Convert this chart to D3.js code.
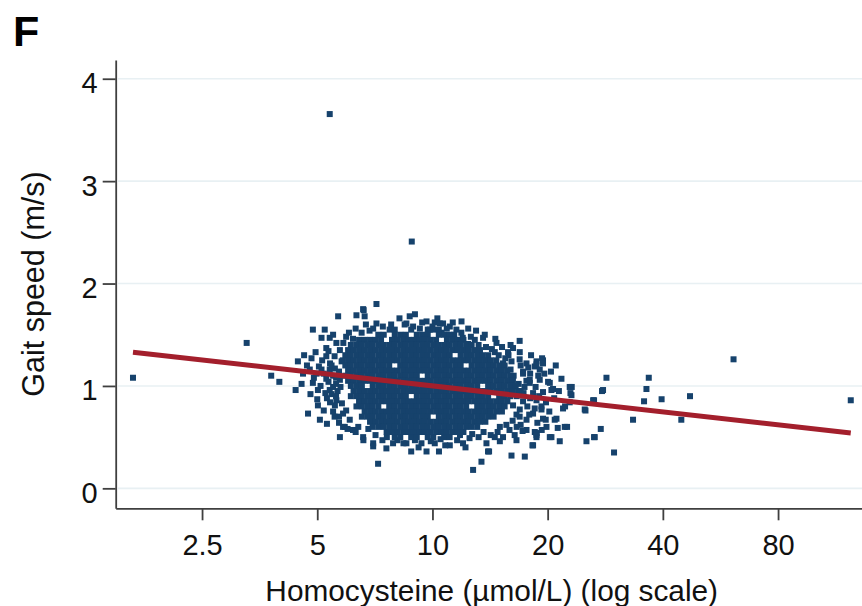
<!DOCTYPE html>
<html><head><meta charset="utf-8">
<script src="https://cdn.jsdelivr.net/npm/d3@7"></script>
<style>body{margin:0;background:#fff}svg{display:block}</style>
</head><body><svg id="c" width="862" height="606"></svg>
<script>
// ---------- labels / ticks ----------
const panelLabel = "F";
const xTitle = "Homocysteine (µmol/L) (log scale)";
const yTitle = "Gait speed (m/s)";
const xTicks = [2.5, 5, 10, 20, 40, 80];
const xTickLabels = ["2.5", "5", "10", "20", "40", "80"];
const yTicks = [0, 1, 2, 3, 4];

// ---------- scattered points (homocysteine, gait speed) ----------
const hcy = [1.65,3.27,5.39,8.83,123.9,61.2,39.7,47.1,44.7,
 4.45,4.59,4.83,4.78,4.98,5.28,5.39,5.39,5.61,4.73,5.08,5.02,5.73,5.90,7.00,7.00,7.21,3.79,3.98,4.39,4.87,5.23,5.39,5.13,5.67,6.33,6.65,7.14,6.59,5.61,5.73,5.28,5.79,5.13,5.56,4.87,5.28,5.73,5.02,5.50,5.56,5.84,6.08,6.20,5.84,6.59,7.89,7.58,8.55,9.36,9.65,10.14,11.10,12.02,13.84,14.55,15.29,16.58,13.97,13.43,12.77,16.09,17.43,18.32,14.06,
 6.61,8.72,8.55,9.65,10.14,10.66,11.91,11.55,10.56,12.39,13.56,14.70,14.55,15.76,16.24,16.91,15.29,16.09,17.61,18.70,19.45,18.51,17.25,19.07,17.96,20.05,21.73,20.46,22.84,23.08,26.29,25.00,21.94,19.27,18.32,19.45,20.87,22.17,19.86,18.51,17.61,20.46,21.51,25.26,26.55,18.70,8.46,7.14,7.73,8.90,10.45,11.10,9.27,9.84,7.42,6.53,6.85,
 28.49,36.75,36.24,35.72,33.43,29.82,27.74,26.44,25.11,27.53,26.44,23.12,22.94,22.21,22.48,20.26,19.34,18.70,19.45,18.25,18.70,21.09,19.77,19.27,20.26,20.66,19.07,19.45,17.96,17.25,16.58,17.25,18.70,18.32,17.61,16.91,16.24,27.91,22.84,21.25,18.72,
 16.3,16.8,17.0,16.6,17.4,16.2,17.0,15.6,15.9,15.0,14.8,16.0,15.5,14.9,14.3,13.8,13.2,12.9,12.0,11.4,15.8,
 5.4,5.5,5.6,5.45,5.65,5.5,5.7,5.3,7.4,8.1,9.0,10.5,11.6,12.5,13.2,
 4.62,4.95,5.15,5.35,5.55,4.70,5.05,5.45,5.70,4.90,5.20,5.60,4.55,5.10,5.35,5.75,4.80,5.25,5.60,5.00,5.40,5.80,5.20,5.55,5.95,5.30,5.70,6.0,6.3,6.4,5.85,5.95,6.20,6.05,6.30,5.50,
 16.9,17.8,18.1,17.0,18.0,18.9,17.6,18.6,19.6,17.3,18.0,19.0,17.7,18.5,19.8,16.9,17.9,18.8,16.6,17.2,16.4,19.3,20.2,20.8,21.4,20.4,21.0,16.0,16.9,15.2,14.6,13.7,13.0,12.4,11.9,12.6,
 7.8,8.2,9.4,10.0,10.9,11.3,7.0,6.7,9.0,10.3,
 7.1,7.6,8.4,9.2,9.9,10.8,11.8,12.7,13.6,14.2,15.0,12.2,10.4,8.8,6.8,6.6];
const speed = [1.08,1.42,3.655,2.41,0.86,1.26,0.87,0.90,0.67,
 1.24,1.12,1.27,1.16,1.12,1.29,1.16,0.96,0.86,0.73,0.67,0.81,0.50,0.60,0.44,0.41,0.24,1.10,1.04,0.96,1.55,1.55,1.47,1.47,1.68,1.69,1.68,1.80,1.75,1.42,1.35,1.37,1.24,1.16,1.17,1.03,1.07,1.06,0.96,0.99,0.81,0.73,0.67,0.57,0.60,0.50,0.44,0.39,0.44,0.44,0.36,0.44,0.42,0.44,0.44,0.50,0.50,0.47,0.36,0.26,0.18,0.32,0.31,0.42,0.36,
 1.74,1.68,1.61,1.63,1.62,1.61,1.63,1.55,1.52,1.41,1.47,1.42,1.33,1.33,1.37,1.33,1.22,1.24,1.22,1.24,1.25,1.19,1.14,1.16,1.06,1.04,1.07,0.96,0.99,0.91,0.86,0.77,0.78,0.80,0.73,0.68,0.67,0.60,0.60,0.55,0.57,0.50,0.46,0.46,0.50,0.50,1.60,1.61,1.55,1.58,1.61,1.58,1.56,1.55,1.58,1.52,1.54,
 1.08,1.08,0.97,0.85,0.67,0.35,0.95,0.86,0.76,0.58,0.50,0.99,0.93,0.80,0.60,0.50,1.27,1.21,1.22,0.42,0.52,0.68,0.67,0.77,1.03,0.97,1.06,0.94,1.03,1.12,0.72,0.85,0.86,0.93,0.67,0.77,0.81,0.96,0.84,0.59,0.54,
 1.10,1.02,0.95,0.90,0.99,0.66,0.62,0.62,0.57,0.60,0.55,1.16,1.27,1.30,1.36,1.38,1.40,1.45,1.47,1.50,1.30,
 1.22,1.10,1.02,0.92,0.95,0.75,0.70,0.88,0.47,0.47,0.47,0.48,0.47,0.49,0.50,
 1.30,1.33,1.25,1.34,1.29,1.20,1.19,1.20,1.14,1.08,1.12,1.08,1.02,1.00,1.04,0.99,0.92,0.93,0.90,0.87,0.84,0.83,0.76,0.70,0.76,0.63,0.64,0.58,0.55,0.60,1.42,1.48,1.46,1.52,1.56,1.50,
 1.26,1.18,1.30,1.20,1.12,1.10,1.05,0.99,1.12,0.93,0.88,0.90,0.80,0.78,0.84,0.70,0.72,0.64,0.60,0.56,0.52,0.57,0.75,0.88,0.95,1.14,1.20,1.40,1.44,1.38,1.46,1.50,1.54,1.56,1.52,1.48,
 1.60,1.66,1.62,1.58,1.56,1.62,1.56,1.60,1.70,1.66,
 0.52,0.50,0.44,0.40,0.46,0.42,0.52,0.53,0.55,0.52,0.46,0.40,0.36,0.36,0.58,0.47];

// ---------- dense core, read row by row (gait speed of row, homocysteine values) ----------
const coreSpeed = [1.55,1.50,1.45,1.40,1.35,1.30,1.25,1.20,1.15,1.10,1.05,1.00,0.95,0.90,0.85,0.80,0.75,0.70,0.65,0.60,0.55,0.50];
const coreHcy = [
 [7.97,8.80,9.72,10.05,10.39],
 [7.22,7.46,7.97,8.24,8.52,9.10,9.40,9.72,10.39,10.73,11.09],
 [6.43,6.65,6.87,7.10,7.34,7.84,8.10,8.38,8.66,8.95,9.25,9.56,9.88,10.22,10.91,11.28,11.66,12.05],
 [6.12,6.33,6.54,6.76,6.98,7.22,7.46,7.71,7.97,8.24,8.52,8.80,9.10,9.40,9.72,10.05,10.39,10.73,11.09,11.47,11.85,12.25,12.66],
 [6.02,6.22,6.43,6.65,6.87,7.10,7.34,7.59,7.84,8.10,8.38,8.66,8.95,9.25,9.56,9.88,10.22,10.56,10.91,11.28,11.66,12.05,12.45,12.87,13.31],
 [5.92,6.12,6.33,6.54,6.76,6.98,7.22,7.46,7.71,7.97,8.24,8.52,8.80,9.10,9.40,9.72,10.05,10.39,10.73,11.09,11.85,12.25,12.66,13.09,13.53,13.98],
 [5.83,6.02,6.22,6.43,6.65,6.87,7.10,7.34,7.59,7.84,8.10,8.38,8.66,8.95,9.25,9.56,9.88,10.22,10.56,10.91,11.28,11.66,12.05,12.45,12.87,13.31,13.75,14.21,14.69],
 [5.92,6.12,6.33,6.54,6.76,6.98,7.22,7.46,7.71,8.24,8.52,8.80,9.10,9.40,9.72,10.05,10.39,10.73,11.09,11.47,11.85,12.66,13.09,13.53,13.98,14.45,14.94,15.44],
 [6.02,6.22,6.43,6.65,6.87,7.10,7.34,7.59,7.84,8.10,8.38,8.66,8.95,9.25,9.56,9.88,10.22,10.56,10.91,11.28,11.66,12.05,12.45,12.87,13.31,13.75,14.21,14.69,15.19,15.70],
 [5.92,6.12,6.33,6.54,6.76,6.98,7.22,7.46,7.71,7.97,8.24,8.52,8.80,9.10,9.72,10.05,10.39,10.73,11.09,11.47,11.85,12.25,12.66,13.09,13.53,13.98,14.45,14.94,15.44,15.96],
 [6.02,6.22,6.43,6.65,6.87,7.10,7.34,7.59,7.84,8.10,8.38,8.66,8.95,9.25,9.56,9.88,10.22,10.56,10.91,11.28,11.66,12.05,12.45,12.87,13.31,13.75,14.21,14.69,15.19,15.70,16.23],
 [6.12,6.33,6.54,6.98,7.22,7.46,7.71,7.97,8.24,8.52,8.80,9.10,9.40,9.72,10.05,10.39,10.73,11.09,11.47,11.85,12.25,12.66,13.09,13.98,14.45,14.94,15.44,15.96,16.50],
 [6.22,6.43,6.65,6.87,7.10,7.34,7.59,7.84,8.10,8.38,8.66,8.95,9.25,9.56,9.88,10.22,10.56,10.91,11.28,11.66,12.05,12.45,12.87,13.31,13.75,14.21,14.69,15.19,15.70,16.23,16.78],
 [6.12,6.33,6.54,6.76,6.98,7.22,7.46,7.71,7.97,8.24,8.52,9.10,9.40,9.72,10.05,10.39,10.73,11.09,11.47,11.85,12.25,12.66,13.09,13.53,13.98,14.94,15.44,15.96],
 [6.43,6.65,6.87,7.10,7.34,7.59,7.84,8.10,8.38,8.66,8.95,9.25,9.56,9.88,10.22,10.56,10.91,11.28,11.66,12.05,12.45,12.87,13.31,13.75,14.21,14.69,15.19,15.70],
 [6.33,6.54,6.76,6.98,7.22,7.71,7.97,8.24,8.52,8.80,9.10,9.40,9.72,10.05,10.39,10.73,11.09,11.47,11.85,12.25,13.09,13.53,13.98,14.45,14.94,15.44],
 [6.65,6.87,7.10,7.34,7.59,7.84,8.10,8.38,8.66,8.95,9.25,9.56,9.88,10.22,10.56,10.91,11.28,11.66,12.05,12.45,12.87,13.31,13.75,14.21,14.69,15.19],
 [6.54,6.76,6.98,7.22,7.46,7.71,7.97,8.24,8.52,8.80,9.10,9.40,9.72,10.39,10.73,11.09,11.47,11.85,12.25,12.66,13.09,13.53,13.98,14.45],
 [6.87,7.10,7.34,7.59,7.84,8.10,8.38,8.66,8.95,9.25,9.56,9.88,10.22,10.56,10.91,11.28,11.66,12.05,12.45,12.87,13.31,13.75],
 [6.98,7.22,7.46,7.71,7.97,8.24,8.52,8.80,9.10,9.40,9.72,10.05,10.39,10.73,11.09,11.47,11.85,12.25,12.66,13.09],
 [7.59,7.84,8.10,8.38,8.66,8.95,9.25,9.56,9.88,10.22,10.56,10.91,11.28,11.66,12.05],
 [7.97,8.24,8.80,9.10,9.72,10.05,10.73,11.09]
];

// ---------- fitted line endpoints ----------
const fitHcy = [1.65, 123.9];
const fitSpeed = [1.33, 0.54];

// ---------- drawing ----------
const svg = d3.select("#c");
const font = "'Liberation Sans', Arial, Helvetica, sans-serif";
const navy = "#16426c", red = "#a31f2c", axisCol = "#3f3f3f";

const x = d3.scaleLog().domain([1.487, 143.7]).range([115.7, 875.4]);
const y = d3.scaleLinear().domain([-0.195, 4.183]).range([508.3, 60]);

// gridlines
svg.append("g").selectAll("line").data(yTicks).join("line")
  .attr("x1", 118).attr("x2", 862)
  .attr("y1", d => y(d)).attr("y2", d => y(d))
  .attr("stroke", "#e8f0f3").attr("stroke-width", 1.6);

// points
const pts = hcy.map((h, i) => [h, speed[i]]);
coreSpeed.forEach((s, r) => coreHcy[r].forEach(h => pts.push([h, s])));
const sz = 6;
svg.append("g").selectAll("rect").data(pts).join("rect")
  .attr("x", d => x(d[0]) - sz / 2).attr("y", d => y(d[1]) - sz / 2)
  .attr("width", sz).attr("height", sz).attr("fill", navy);

// fitted line
svg.append("path")
  .datum(fitHcy.map((h, i) => [h, fitSpeed[i]]))
  .attr("d", d3.line().x(d => x(d[0])).y(d => y(d[1])))
  .attr("stroke", red).attr("stroke-width", 5).attr("fill", "none");

// axes
const yAxis = svg.append("g").attr("transform", "translate(115.7,0)")
  .call(d3.axisLeft(y).tickValues(yTicks).tickFormat(d3.format("d")).tickSize(13).tickPadding(5).tickSizeOuter(0));
const xAxis = svg.append("g").attr("transform", "translate(0,508.3)")
  .call(d3.axisBottom(x).tickValues(xTicks).tickFormat((d, i) => xTickLabels[i]).tickSize(12).tickPadding(14).tickSizeOuter(0));
[yAxis, xAxis].forEach(g => {
  g.selectAll("path.domain").attr("stroke", axisCol).attr("stroke-width", 1.8);
  g.selectAll(".tick line").attr("stroke", axisCol).attr("stroke-width", 1.8);
  g.selectAll(".tick text").attr("fill", "#111").style("font-family", font).style("font-size", "29px");
});
yAxis.selectAll(".tick text").attr("dy", "0.48em");

// titles
svg.append("text").attr("x", 491.7).attr("y", 601).attr("text-anchor", "middle")
  .style("font-family", font).style("font-size", "29.8px").attr("fill", "#111").text(xTitle);
svg.append("text").attr("transform", "translate(43.5,284) rotate(-90)").attr("text-anchor", "middle")
  .style("font-family", font).style("font-size", "30.5px").attr("fill", "#111").text(yTitle);
svg.append("text").attr("x", 13).attr("y", 46)
  .style("font-family", font).style("font-size", "43px").style("font-weight", "bold").attr("fill", "#000").text(panelLabel);
</script></body></html>
